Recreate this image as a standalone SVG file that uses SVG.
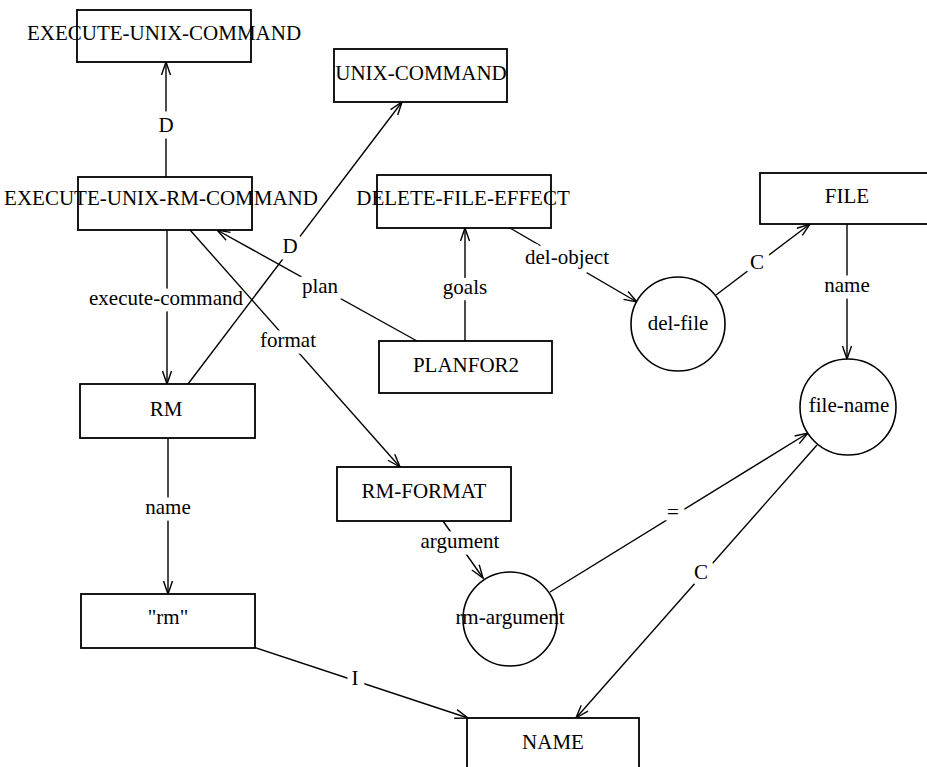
<svg xmlns="http://www.w3.org/2000/svg" width="927" height="767" viewBox="0 0 927 767">
  <style>
    text { font-family: "Liberation Serif", "Times New Roman", serif; font-size: 21px; fill: #000; text-anchor: middle; }
    .box { fill: #fff; stroke: #000; stroke-width: 1.8; }
    .ring { fill: #fff; stroke: #000; stroke-width: 1.6; }
    .edge { fill: none; stroke: #000; stroke-width: 1.4; marker-end: url(#arrow); }
    .lbl { stroke: #fff; stroke-width: 13; stroke-linejoin: round; paint-order: stroke; }
  </style>
  <defs>
    <marker id="arrow" markerUnits="userSpaceOnUse" markerWidth="14" markerHeight="10" refX="13" refY="5" orient="auto" overflow="visible">
      <path d="M0,0.5 L13,5 L0,9.5" fill="none" stroke="#000" stroke-width="1.4"/>
    </marker>
  </defs>
  <rect width="927" height="767" fill="#fff"/>

  <!-- connectors, drawn below the nodes; execute-command goes first so the
       crossing D and format lines stay unbroken over its label -->
  <g id="connectors">
    <line class="edge" x1="167" y1="230" x2="167" y2="384"/>
    <text class="lbl" x="166" y="305">execute-command</text>

    <line class="edge" x1="166" y1="177" x2="166" y2="62"/>
    <line class="edge" x1="188" y1="384" x2="402" y2="102"/>
    <line class="edge" x1="417" y1="341" x2="217" y2="230"/>
    <line class="edge" x1="190" y1="230" x2="400" y2="467"/>
    <line class="edge" x1="465" y1="341" x2="465" y2="228"/>
    <line class="edge" x1="510" y1="228" x2="637" y2="302"/>
    <line class="edge" x1="716" y1="295" x2="810" y2="224"/>
    <line class="edge" x1="847" y1="224" x2="847" y2="359"/>
    <line class="edge" x1="550" y1="592" x2="808" y2="433"/>
    <line class="edge" x1="817" y1="445" x2="576" y2="718"/>
    <line class="edge" x1="443" y1="521" x2="483" y2="578"/>
    <line class="edge" x1="168" y1="438" x2="168" y2="594"/>
    <line class="edge" x1="253" y1="647" x2="468" y2="718"/>

    <text class="lbl" x="166" y="132">D</text>
    <text class="lbl" x="290" y="253">D</text>
    <text class="lbl" x="320" y="293">plan</text>
    <text class="lbl" x="288" y="347">format</text>
    <text class="lbl" x="465" y="294">goals</text>
    <text class="lbl" x="567" y="264">del-object</text>
    <text class="lbl" x="757" y="269">C</text>
    <text class="lbl" x="847" y="292">name</text>
    <text class="lbl" x="673" y="519">=</text>
    <text class="lbl" x="701" y="579">C</text>
    <text class="lbl" x="460" y="548">argument</text>
    <text class="lbl" x="168" y="514">name</text>
    <text class="lbl" x="355" y="685">I</text>
  </g>

  <g id="execute-unix-command">
    <rect class="box" x="77" y="10" width="174" height="52"/>
    <text x="164" y="40">EXECUTE-UNIX-COMMAND</text>
  </g>
  <g id="execute-unix-rm-command">
    <rect class="box" x="78" y="177" width="174" height="53"/>
    <text x="161" y="205">EXECUTE-UNIX-RM-COMMAND</text>
  </g>
  <g id="unix-command">
    <rect class="box" x="334" y="49" width="173" height="53"/>
    <text x="421" y="80">UNIX-COMMAND</text>
  </g>
  <g id="delete-file-effect">
    <rect class="box" x="377" y="175" width="174" height="53"/>
    <text x="463" y="205">DELETE-FILE-EFFECT</text>
  </g>
  <g id="file">
    <rect class="box" x="760" y="173" width="174" height="51"/>
    <text x="847" y="203">FILE</text>
  </g>
  <g id="planfor2">
    <rect class="box" x="379" y="341" width="173" height="52"/>
    <text x="466" y="372">PLANFOR2</text>
  </g>
  <g id="rm">
    <rect class="box" x="80" y="384" width="175" height="54"/>
    <text x="166" y="416">RM</text>
  </g>
  <g id="rm-format">
    <rect class="box" x="337" y="467" width="174" height="54"/>
    <text x="424" y="498">RM-FORMAT</text>
  </g>
  <g id="rm-string">
    <rect class="box" x="81" y="594" width="174" height="54"/>
    <text x="168" y="624">"rm"</text>
  </g>
  <g id="name">
    <rect class="box" x="467" y="718" width="172" height="56"/>
    <text x="553" y="749">NAME</text>
  </g>
  <g id="del-file">
    <circle class="ring" cx="678" cy="324" r="47"/>
    <text x="678" y="330">del-file</text>
  </g>
  <g id="file-name">
    <circle class="ring" cx="848" cy="407" r="48"/>
    <text x="849" y="412">file-name</text>
  </g>
  <g id="rm-argument">
    <circle class="ring" cx="510" cy="619" r="47"/>
    <text x="510" y="624">rm-argument</text>
  </g>
</svg>
